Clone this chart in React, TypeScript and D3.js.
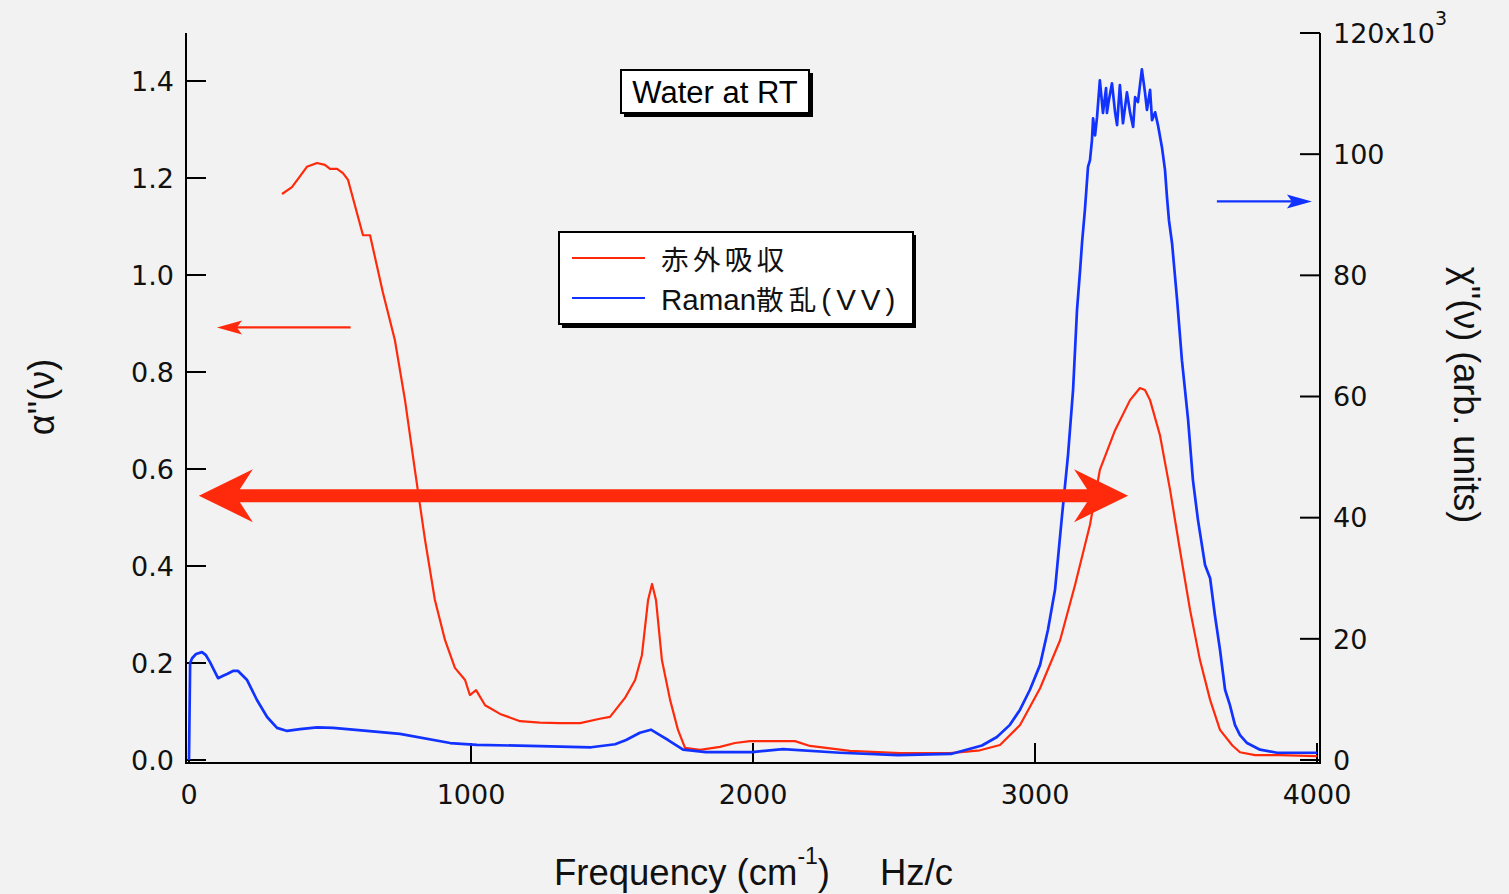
import React from "react";
import * as d3 from "d3";

// ---------- data ----------
const irFreq = [330, 365, 394, 418, 454, 482, 500, 525, 546, 564, 617, 642, 688, 730, 766, 801, 837, 872, 908, 943, 979, 996, 1018, 1050, 1103, 1174, 1245, 1316, 1387, 1457, 1493, 1546, 1582, 1606, 1628, 1642, 1656, 1677, 1706, 1734, 1759, 1812, 1883, 1936, 1989, 2149, 2202, 2344, 2521, 2699, 2805, 2876, 2947, 3018, 3089, 3142, 3195, 3230, 3284, 3337, 3372, 3390, 3408, 3443, 3479, 3514, 3550, 3585, 3621, 3656, 3700, 3727, 3780, 3869, 4000];
const irAbs = [1.167, 1.181, 1.204, 1.223, 1.231, 1.227, 1.219, 1.219, 1.21, 1.196, 1.082, 1.082, 0.963, 0.866, 0.742, 0.598, 0.454, 0.33, 0.247, 0.19, 0.165, 0.134, 0.144, 0.113, 0.095, 0.08, 0.077, 0.076, 0.076, 0.085, 0.089, 0.128, 0.165, 0.216, 0.33, 0.363, 0.33, 0.206, 0.124, 0.062, 0.025, 0.021, 0.027, 0.035, 0.039, 0.039, 0.029, 0.019, 0.014, 0.014, 0.02, 0.031, 0.072, 0.148, 0.247, 0.361, 0.485, 0.598, 0.68, 0.742, 0.767, 0.763, 0.742, 0.67, 0.557, 0.433, 0.309, 0.206, 0.124, 0.062, 0.03, 0.016, 0.01, 0.01, 0.008];

const ramanFreq = [0, 4, 11, 25, 46, 60, 74, 103, 121, 135, 156, 174, 206, 241, 277, 312, 348, 394, 454, 511, 631, 748, 926, 1021, 1245, 1426, 1511, 1550, 1599, 1638, 1670, 1699, 1752, 1833, 1996, 2106, 2309, 2514, 2702, 2812, 2865, 2911, 2947, 2982, 3018, 3046, 3071, 3096, 3117, 3135, 3149, 3160, 3167, 3177, 3188, 3195, 3202, 3206, 3213, 3220, 3230, 3241, 3252, 3255, 3262, 3273, 3284, 3291, 3301, 3312, 3326, 3337, 3348, 3355, 3365, 3379, 3390, 3397, 3408, 3415, 3426, 3436, 3450, 3461, 3468, 3475, 3486, 3504, 3521, 3543, 3560, 3578, 3603, 3621, 3638, 3656, 3674, 3691, 3709, 3727, 3752, 3798, 3858, 3940, 4000];
const ramanChi = [0, 16.0, 16.8, 17.5, 17.8, 17.3, 16.2, 13.5, 13.9, 14.2, 14.7, 14.7, 13.2, 9.9, 7.1, 5.3, 4.8, 5.1, 5.4, 5.3, 4.8, 4.3, 2.8, 2.5, 2.3, 2.1, 2.6, 3.3, 4.5, 5.0, 4.1, 3.3, 1.7, 1.3, 1.3, 1.8, 1.2, 0.8, 1.0, 2.4, 3.8, 5.8, 8.3, 11.6, 15.7, 21.5, 28.1, 40.4, 50.3, 61.1, 74.3, 80.9, 85.5, 90.8, 97.9, 99.0, 102.3, 105.9, 103.1, 106.1, 112.2, 106.8, 110.9, 106.8, 108.9, 111.7, 106.9, 104.8, 111.4, 105.1, 110.2, 106.9, 104.5, 109.4, 108.6, 114.0, 110.2, 107.3, 110.6, 105.6, 106.9, 104.8, 101.2, 97.4, 92.9, 89.1, 85.3, 75.9, 66.0, 56.1, 46.2, 39.6, 32.2, 30.0, 23.9, 18.2, 11.6, 9.1, 5.8, 4.1, 2.8, 1.7, 1.2, 1.2, 1.2];

const xTicks = [0, 1000, 2000, 3000, 4000];
const leftTicks = [0, 0.2, 0.4, 0.6, 0.8, 1.0, 1.2, 1.4];
const rightTicks = [0, 20, 40, 60, 80, 100, 120];

const seriesNames = ["赤外吸収", "Raman散乱(VV)"];
const titleText = "Water at RT";

// annotation arrows in data units
const bigArrow = { f0: 35, f1: 3330, v: 0.545 };
const irArrow = { from: 573, to: 99, v: 0.892 };
const ramanArrow = { from: 3645, to: 3982, v: 92.2 };

const RED = "#ff2a0c";
const BLUE = "#1233ff";

export default function App() {
  const W = 1509, H = 894;
  const x = d3.scaleLinear().domain([0, 4000]).range([189, 1317]);
  const yL = d3.scaleLinear().domain([0, 1.5]).range([760, 32.5]);
  const yR = d3.scaleLinear().domain([0, 120]).range([760, 33]);

  const irLine = d3.line<number>().x((_, i) => x(irFreq[i])).y((d) => yL(d))(irAbs) || "";
  const raLine = d3.line<number>().x((_, i) => x(ramanFreq[i])).y((d) => yR(d))(ramanChi) || "";

  const axisL = 186, axisR = 1320, axisB = 763, axisT = 33;
  const tickFont = "'DejaVu Sans', sans-serif";
  const helv = "'Liberation Sans', Arial, sans-serif";
  const cjk = "'Noto Sans CJK JP', 'Noto Sans', sans-serif";

  // big double arrow
  const bx0 = x(bigArrow.f0), bx1 = x(bigArrow.f1), by = yL(bigArrow.v);
  const hl = 54, hw = 26.5, notch = 41, sw = 6.5;
  const bigPath = [
    `M${bx0},${by}`,
    `L${bx0 + hl},${by - hw}`,
    `L${bx0 + notch},${by - sw}`,
    `L${bx1 - notch},${by - sw}`,
    `L${bx1 - hl},${by - hw}`,
    `L${bx1},${by}`,
    `L${bx1 - hl},${by + hw}`,
    `L${bx1 - notch},${by + sw}`,
    `L${bx0 + notch},${by + sw}`,
    `L${bx0 + hl},${by + hw}`,
    "Z",
  ].join(" ");

  const smallHead = (tipX: number, y: number, dir: number) => {
    const l = 25, w = 7, n = 20;
    return `M${tipX},${y} L${tipX - dir * l},${y - w} L${tipX - dir * n},${y} L${tipX - dir * l},${y + w} Z`;
  };
  const ia0 = x(irArrow.from), ia1 = x(irArrow.to), iay = yL(irArrow.v);
  const ra0 = x(ramanArrow.from), ra1 = x(ramanArrow.to), ray = yR(ramanArrow.v);

  const raman = seriesNames[1];
  const rLatin = raman.slice(0, 5);
  const rCjk = raman.slice(5, 7);
  const rParen = raman.slice(7);

  return (
    <svg width={W} height={H} style={{ position: "absolute", left: 0, top: 0, background: "#f2f2f2" }}>
      <rect x={0} y={0} width={W} height={H} fill="#f2f2f2" />

      {/* axes */}
      <g stroke="#000" strokeWidth={2} fill="none">
        <line x1={axisL} y1={axisT} x2={axisL} y2={axisB + 1} />
        <line x1={axisR} y1={axisT} x2={axisR} y2={axisB + 1} />
        <line x1={axisL} y1={axisB} x2={axisR} y2={axisB} />
        {leftTicks.map((t) => (
          <line key={"lt" + t} x1={axisL} x2={axisL + 20} y1={yL(t)} y2={yL(t)} />
        ))}
        {rightTicks.map((t) => (
          <line key={"rt" + t} x1={axisR - 20} x2={axisR} y1={yR(t)} y2={yR(t)} />
        ))}
        {xTicks.map((t) => (
          <line key={"xt" + t} x1={x(t)} x2={x(t)} y1={axisB} y2={axisB - 20} />
        ))}
      </g>

      {/* tick labels */}
      <g fontFamily={tickFont} fontSize={27} fill="#111">
        {leftTicks.map((t) => (
          <text key={"ll" + t} x={174} y={yL(t)} dy="0.36em" textAnchor="end">
            {t.toFixed(1)}
          </text>
        ))}
        {rightTicks.map((t) =>
          t === 120 ? (
            <text key={"rl" + t} x={1333} y={yR(t)} dy="0.36em">
              120x10
              <tspan fontSize={19} dy="-0.95em">3</tspan>
            </text>
          ) : (
            <text key={"rl" + t} x={1333} y={yR(t)} dy="0.36em">
              {t}
            </text>
          )
        )}
        {xTicks.map((t) => (
          <text key={"xl" + t} x={x(t)} y={804} textAnchor="middle">
            {t}
          </text>
        ))}
      </g>

      {/* data lines */}
      <path d={irLine} fill="none" stroke={RED} strokeWidth={2.2} strokeLinejoin="round" />
      <path d={raLine} fill="none" stroke={BLUE} strokeWidth={2.7} strokeLinejoin="round" />

      {/* arrows */}
      <path d={bigPath} fill={RED} />
      <line x1={ia0} x2={ia1 + 20} y1={iay} y2={iay} stroke={RED} strokeWidth={2.2} />
      <path d={smallHead(ia1, iay, -1)} fill={RED} />
      <line x1={ra0} x2={ra1 - 20} y1={ray} y2={ray} stroke={BLUE} strokeWidth={2.2} />
      <path d={smallHead(ra1, ray, 1)} fill={BLUE} />

      {/* title box */}
      <rect x={624} y={73} width={189} height={44} fill="#000" />
      <rect x={621} y={70} width={188} height={43} fill="#fff" stroke="#000" strokeWidth={2} />
      <text x={715} y={103} textAnchor="middle" fontFamily={helv} fontSize={31} fill="#000">
        {titleText}
      </text>

      {/* legend */}
      <rect x={562} y={235} width={354} height={93} fill="#000" />
      <rect x={559} y={232} width={354} height={92} fill="#fff" stroke="#000" strokeWidth={2} />
      <line x1={572} x2={645} y1={258} y2={258} stroke={RED} strokeWidth={2} />
      <line x1={572} x2={645} y1={298} y2={298} stroke={BLUE} strokeWidth={2} />
      <text x={661} y={270} fontFamily={cjk} fontSize={27.6} fill="#111" letterSpacing={4.3}>
        {seriesNames[0]}
      </text>
      <text x={661} y={310} fontFamily={cjk} fontSize={27.6} fill="#111">
        <tspan fontFamily={helv} fontSize={29.5}>{rLatin}</tspan>
        <tspan letterSpacing={5}>{rCjk}</tspan>
        <tspan fontFamily={helv} fontSize={29.5} letterSpacing={5}>{rParen}</tspan>
      </text>

      {/* axis titles */}
      <text
        transform={`translate(54,397) rotate(-90)`}
        textAnchor="middle"
        fontFamily={helv}
        fontSize={36}
        fill="#111"
      >
        α''(ν)
      </text>
      <text
        transform={`translate(1454,395) rotate(90)`}
        textAnchor="middle"
        fontFamily={helv}
        fontSize={36}
        fill="#111"
      >
        χ''(ν) (arb. units)
      </text>
      <g fontFamily={helv} fontSize={36.5} fill="#111">
        <text x={554} y={885}>
          Frequency (cm
          <tspan fontSize={23} dy="-0.9em">-1</tspan>
          <tspan dy="0.57em">)</tspan>
        </text>
        <text x={880} y={885}>Hz/c</text>
      </g>
    </svg>
  );
}
